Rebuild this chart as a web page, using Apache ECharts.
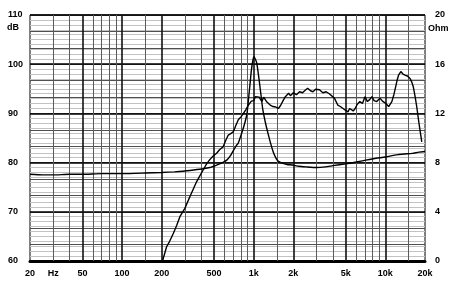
<!DOCTYPE html>
<html><head><meta charset="utf-8">
<script src="https://cdn.jsdelivr.net/npm/echarts@6/dist/echarts.min.js"></script>
<style>html,body{margin:0;padding:0;background:#fff}#c{width:452px;height:289px}</style>
</head><body><div id="c"></div>
<script>
// Frequency response (dB)
const splFreq = [203,218,230,245,260,275,300,328,350,368,390,413,440,464,490,523,550,586,615,641,670,702,730,764,800,836,870,912,960,1000,1030,1054,1100,1154,1190,1222,1260,1300,1335,1400,1470,1540,1600,1680,1740,1800,1840,1900,2000,2110,2230,2350,2460,2570,2700,2820,2950,3160,3350,3550,3750,3880,4100,4350,4550,4770,5000,5200,5350,5500,5700,5900,6100,6400,6700,7000,7300,7600,7900,8200,8600,9100,9500,10000,10600,11200,11600,11900,12300,12600,13100,13600,14100,14700,15400,15900,16300,16800,17300,18000,18900];
const splDb = [60,62.9,64.0,65.6,67.2,69.0,70.7,73.1,74.8,76.1,77.3,78.5,79.8,80.6,81.3,81.9,82.6,83.2,84.6,85.6,85.9,86.3,87.5,88.7,89.3,90.0,90.7,91.7,92.5,92.6,93.4,93.0,93.3,92.4,93.3,93.1,92.3,92.0,91.7,91.4,91.3,91.0,91.6,92.7,93.4,93.0,94.1,93.6,94.2,93.8,94.4,94.2,94.7,95.1,94.6,94.4,94.9,94.8,94.2,94.4,94.0,93.7,93.1,91.7,91.4,91.0,90.6,90.3,91.0,91.4,90.5,91.0,91.8,92.4,92.0,93.4,92.4,92.8,93.4,92.6,92.4,93.1,92.5,92.1,91.4,92.4,93.8,95.1,96.8,97.8,98.5,98.0,97.8,97.6,97.1,96.3,95.4,93.5,91.4,88.0,84.2];
// Impedance (Ohm)
const impFreq = [20,25,30,40,50,70,100,150,200,250,291,350,413,464,523,580,624,660,702,740,764,800,855,890,912,940,960,985,1004,1030,1054,1085,1115,1145,1173,1230,1283,1350,1414,1480,1540,1650,1790,1970,2200,2500,3000,3500,4000,5000,6000,7100,8500,10000,11000,12500,14000,16000,18000,20000];
const impOhm = [7.05,7.0,7.0,7.05,7.05,7.1,7.1,7.15,7.2,7.25,7.3,7.4,7.5,7.6,7.8,8.0,8.2,8.5,9.0,9.4,9.6,10.2,11.2,12.0,13.1,14.5,15.5,16.3,16.6,16.4,16.1,15.2,14.2,13.2,12.3,11.2,10.4,9.5,8.8,8.35,8.1,7.95,7.85,7.8,7.7,7.65,7.6,7.65,7.75,7.9,8.05,8.2,8.35,8.45,8.55,8.65,8.7,8.75,8.85,8.9];
// Axis ticks
const xTickValues = [20,30,50,100,200,500,1000,2000,5000,10000,20000];
const xTickLabels = ['20','Hz','50','100','200','500','1k','2k','5k','10k','20k'];
const gridMajorFreqs = [50,100,200,500,1000,2000,5000,10000];
const gridMinorFreqs = [30,40,60,70,80,90,150,300,400,600,700,800,900,1500,3000,4000,6000,7000,8000,9000,15000];

const FONT = 'Liberation Sans, Arial, sans-serif';
const lbl = {fontFamily: FONT, fontSize: 9, fontWeight: 'bold', color: '#000'};

const vLines = [];
gridMinorFreqs.forEach(f => vLines.push({xAxis: f, lineStyle: {color: '#5a5a5a', width: 1, type: 'solid'}}));
gridMajorFreqs.forEach(f => vLines.push({xAxis: f, lineStyle: {color: '#111', width: 1.6, type: 'solid'}}));

const chart = echarts.init(document.getElementById('c'), null, {renderer: 'canvas'});
chart.setOption({
  animation: false,
  backgroundColor: '#fff',
  grid: {left: 30, right: 27, top: 15, bottom: 28, show: true, borderColor: '#000', borderWidth: 1, containLabel: false, outerBoundsMode: 'none'},
  xAxis: {
    type: 'log', logBase: 10, min: 20, max: 20000,
    axisLine: {show: true, onZero: false, lineStyle: {color: '#000', width: 3}},
    axisTick: {show: false},
    splitLine: {show: false},
    axisLabel: Object.assign({margin: 8, customValues: xTickValues,
      formatter: v => { const i = xTickValues.findIndex(t => Math.abs(t - v) < 1e-6 * t); return i >= 0 ? xTickLabels[i] : ''; }}, lbl)
  },
  yAxis: [
    {type: 'value', min: 0, max: 15, interval: 1, position: 'left',
     axisLine: {show: false}, axisTick: {show: false}, axisLabel: {show: false},
     splitLine: {show: true, lineStyle: {color: '#505050', width: 1}}},
    {type: 'value', min: 60, max: 110, interval: 10, position: 'left',
     axisLine: {show: false}, axisTick: {show: false},
     minorTick: {show: false, splitNumber: 10},
     minorSplitLine: {show: true, lineStyle: {color: '#c2c2c2', width: 1}},
     splitLine: {show: true, lineStyle: {color: '#000', width: 1.5}},
     axisLabel: Object.assign({align: 'left', margin: 22}, lbl)},
    {type: 'value', min: 0, max: 20, interval: 4, position: 'right',
     axisLine: {show: false}, axisTick: {show: false}, splitLine: {show: false},
     axisLabel: Object.assign({margin: 10}, lbl)}
  ],
  graphic: [
    {type: 'text', left: 7, top: 23, style: {text: 'dB', font: 'bold 9px ' + FONT, fill: '#000'}},
    {type: 'text', left: 428, top: 24, style: {text: 'Ohm', font: 'bold 9px ' + FONT, fill: '#000'}}
  ],
  series: [
    {type: 'line', name: 'grid', xAxisIndex: 0, yAxisIndex: 1, data: [], silent: true,
     markLine: {silent: true, symbol: ['none', 'none'], label: {show: false}, animation: false, data: vLines}},
    {type: 'line', name: 'SPL', yAxisIndex: 1, showSymbol: false, symbol: 'none',
     lineStyle: {color: '#000', width: 1.4}, data: splFreq.map((f, i) => [f, splDb[i]]), z: 5},
    {type: 'line', name: 'Impedance', yAxisIndex: 2, showSymbol: false, symbol: 'none', smooth: 0.2,
     lineStyle: {color: '#000', width: 1.4}, data: impFreq.map((f, i) => [f, impOhm[i]]), z: 5}
  ]
});
</script></body></html>
